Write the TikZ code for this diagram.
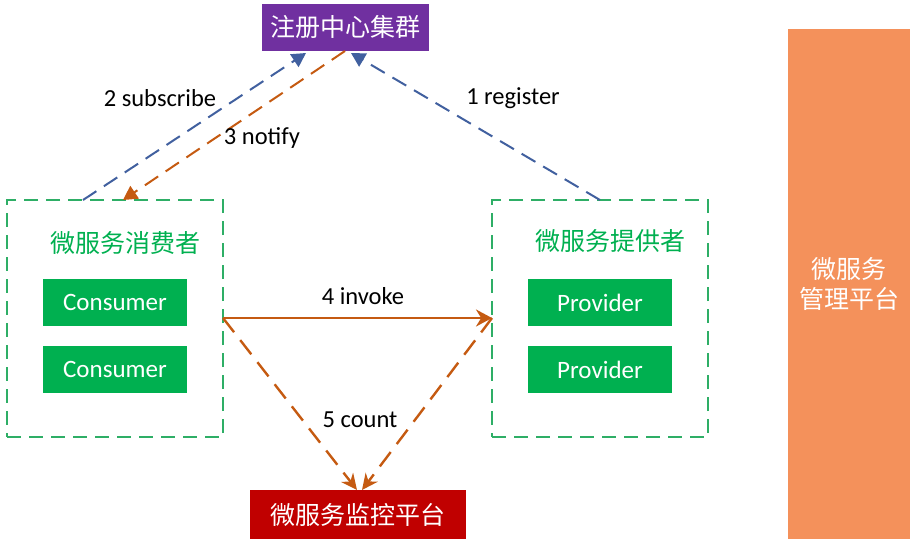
\documentclass[tikz,border=0pt]{standalone}
\usepackage{fontspec}
\setmainfont{Carlito}
\newfontfamily\cjk{Noto Sans CJK SC}
\usetikzlibrary{arrows.meta}
\definecolor{cpurple}{HTML}{7030A0}
\definecolor{cgreen}{HTML}{00B050}
\definecolor{cdgreen}{HTML}{2EAE66}
\definecolor{cred}{HTML}{C00000}
\definecolor{corange}{HTML}{F4915B}
\definecolor{cblue}{HTML}{41609F}
\definecolor{carrow}{HTML}{C55A11}
\tikzset{
  solidbox/.style={draw=none, inner sep=0pt, text=white, font=\cjk\fontsize{25}{30}\selectfont},
  groupbox/.style={draw=cdgreen, line width=2pt, dash pattern=on 14pt off 8pt, inner sep=0pt},
  grouptitle/.style={text=cgreen, font=\cjk\fontsize{25}{30}\selectfont, inner sep=0pt},
  inst/.style={fill=cgreen, text=white, minimum width=144pt, minimum height=47pt, inner sep=0pt, font=\fontsize{25}{30}\selectfont},
  lbl/.style={font=\fontsize{24.5}{29}\selectfont, inner sep=0pt},
  bluearr/.style={draw=cblue, line width=2pt, dash pattern=on 16pt off 9pt, -{Triangle[length=14pt,width=15pt]}},
  orarr/.style={draw=carrow, line width=2pt, dash pattern=on 16pt off 9pt, -{Triangle[length=14pt,width=15pt]}},
  invarr/.style={draw=carrow, line width=2.4pt, -{Stealth[length=16pt,width=17pt]}},
  cntarr/.style={draw=carrow, line width=2.4pt, dash pattern=on 18pt off 10pt, -{Stealth[length=16pt,width=15pt]}}
}
\begin{document}
\begin{tikzpicture}[x=1pt,y=-1pt]
\useasboundingbox (0,0) rectangle (918,550);
% registry
\node[solidbox, fill=cpurple, minimum width=167pt, minimum height=47pt] (reg) at (345.5,27.5) {注册中心集群};
% consumer group
\node[groupbox, minimum width=216pt, minimum height=237pt] (cons) at (115,318.5) {};
\node[grouptitle] (ctitle) at (125,243) {微服务消费者};
\node[inst] (c1) at (115,302.5) {Consumer};
\node[inst] (c2) at (115,369.5) {Consumer};
% provider group
\node[groupbox, minimum width=216pt, minimum height=237pt] (prov) at (600,318.5) {};
\node[grouptitle] (ptitle) at (610,241) {微服务提供者};
\node[inst] (p1) at (600,302.5) {Provider};
\node[inst] (p2) at (600,369.5) {Provider};
% monitor
\node[solidbox, fill=cred, minimum width=216pt, minimum height=49pt] (mon) at (358,514.5) {微服务监控平台};
% management
\node[solidbox, fill=corange, minimum width=122pt, minimum height=510pt, align=center] (mgmt) at (849,284) {微服务\\管理平台};
% anchor points
\coordinate (subA) at (83,200);
\coordinate (subB) at (306,53);
\coordinate (notA) at (345,51);
\coordinate (notB) at (123,200);
\coordinate (regA) at (600,200);
\coordinate (regB) at (351,53);
\coordinate (invA) at (223,318);
\coordinate (invB) at (492,318);
\coordinate (cntA) at (357,490);
\coordinate (cntB) at (362,490);
% connectors
\draw[bluearr] (subA) -- (subB);
\draw[orarr] (notA) -- (notB);
\draw[bluearr] (regA) -- (regB);
\draw[invarr] (invA) -- (invB);
\draw[cntarr] (invA) -- (cntA);
\draw[cntarr] (invB) -- (cntB);
% labels
\node[lbl] (l2) at (160,98) {2 subscribe};
\node[lbl] (l3) at (262,138) {3 notify};
\node[lbl] (l1) at (513,98) {1 register};
\node[lbl] (l4) at (363,296) {4 invoke};
\node[lbl] (l5) at (360,420) {5 count};
\end{tikzpicture}
\end{document}
